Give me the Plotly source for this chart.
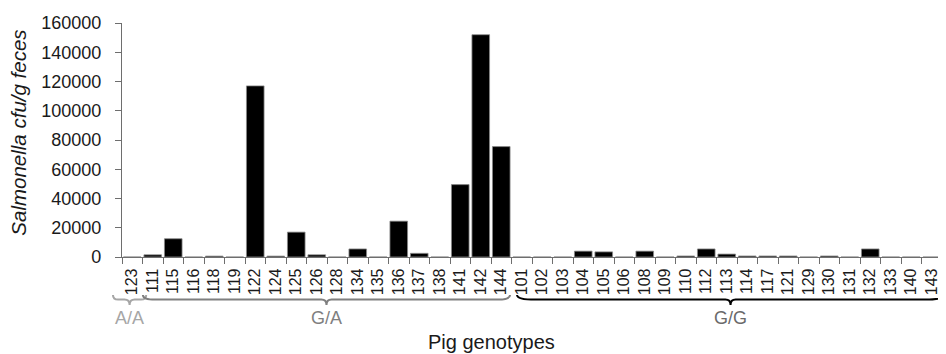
import plotly.graph_objects as go

# ---- data ----
pig_ids = ["123",
           "111", "115", "116", "118", "119", "122", "124", "125", "126", "128",
           "134", "135", "136", "137", "138", "141", "142", "144",
           "101", "102", "103", "104", "105", "106", "108", "109", "110", "112",
           "113", "114", "117", "121", "129", "130", "131", "132", "133", "140", "143"]
cfu_values = [0,
              1500, 12500, 0, 600, 0, 117000, 600, 17000, 1500, 0,
              5500, 0, 24500, 2500, 0, 49500, 152000, 75500,
              0, 0, 0, 4000, 3500, 0, 4000, 0, 700, 5500,
              2000, 700, 700, 700, 0, 700, 0, 5500, 0, 0, 0]
group_names = ["A/A", "G/A", "G/G"]
group_sizes = [1, 18, 21]
y_ticks = [0, 20000, 40000, 60000, 80000, 100000, 120000, 140000, 160000]

# ---- styling ----
FONT = "Liberation Sans, Arial, sans-serif"
group_colors = ["#a6a6a6", "#7f7f7f", "#000000"]
label_colors = ["#a6a6a6", "#7f7f7f", "#6a6a6a"]
# bracket extents relative to group boundaries (in category units)
brace_pad = [(-0.44, 0.18), (0.02, -0.07), (0.27, 0.1)]
brace_round = [0.25, 0.6, 0.9]

n = len(pig_ids)
xs = list(range(n))

fig = go.Figure()
fig.add_trace(go.Bar(
    x=xs, y=cfu_values,
    marker=dict(color="#000000", line=dict(color="#8a8a8a", width=0.8)),
    hoverinfo="x+y",
))

def to_paper(v):
    return (v + 0.5) / n

y_top, y_flat, y_tip = -0.162, -0.182, -0.205
shapes = []
annotations = []
start = 0
for name, size, col, lcol, pad, rd in zip(group_names, group_sizes, group_colors,
                                          label_colors, brace_pad, brace_round):
    a = start - 0.5 + pad[0]
    b = start + size - 1 + 0.5 + pad[1]
    m = (a + b) / 2
    d = min(rd, (b - a) / 4)
    t = min(0.25, (b - a) / 4)
    P = to_paper
    path = (f"M {P(a)},{y_top} Q {P(a)},{y_flat} {P(a + d)},{y_flat} "
            f"L {P(m - t)},{y_flat} Q {P(m)},{y_flat} {P(m)},{y_tip} "
            f"Q {P(m)},{y_flat} {P(m + t)},{y_flat} "
            f"L {P(b - d)},{y_flat} Q {P(b)},{y_flat} {P(b)},{y_top}")
    shapes.append(dict(type="path", xref="paper", yref="paper", path=path,
                       line=dict(color=col, width=2)))
    annotations.append(dict(x=P(m), y=-0.259, xref="paper", yref="paper",
                            text=name, showarrow=False,
                            font=dict(family=FONT, size=18, color=lcol),
                            xanchor="center", yanchor="middle"))
    start += size

annotations.append(dict(x=0.451, y=-0.365, xref="paper", yref="paper",
                        text="Pig genotypes", showarrow=False,
                        font=dict(family=FONT, size=20, color="#1a1a1a"),
                        xanchor="center", yanchor="middle"))
annotations.append(dict(x=-0.126, y=0.53, xref="paper", yref="paper",
                        text="<i>Salmonella cfu/g feces</i>", showarrow=False,
                        textangle=-90,
                        font=dict(family=FONT, size=20.5, color="#1a1a1a"),
                        xanchor="center", yanchor="middle"))

# the page body adds an 8px offset, so the figure is 8px smaller than the window
fig.update_layout(
    width=938, height=346,
    margin=dict(l=114, r=4, t=15, b=97, autoexpand=False),
    paper_bgcolor="white", plot_bgcolor="white",
    showlegend=False, bargap=0.14,
    shapes=shapes, annotations=annotations,
    font=dict(family=FONT, color="#1a1a1a"),
)
fig.update_xaxes(
    automargin=False,
    range=[-0.5, n - 0.5],
    tickmode="array", tickvals=xs, ticktext=pig_ids,
    tickangle=-90, ticks="", showgrid=False, zeroline=False,
    showline=True, linecolor="#6e6e6e", linewidth=1.3,
    ticklabelstandoff=4,
    tickfont=dict(family=FONT, size=16, color="#1a1a1a"),
    minor=dict(tickmode="array", tickvals=[i - 0.5 for i in range(n + 1)],
               ticks="outside", ticklen=6, tickcolor="#6e6e6e", tickwidth=1.3,
               showgrid=False),
)
fig.update_yaxes(
    automargin=False,
    range=[0, 160000], tickmode="array", tickvals=y_ticks,
    ticktext=[str(v) for v in y_ticks],
    ticks="outside", ticklen=6, tickcolor="#6e6e6e", tickwidth=1.3,
    ticklabelstandoff=10,
    showgrid=False, zeroline=False,
    showline=True, linecolor="#6e6e6e", linewidth=1.3,
    tickfont=dict(family=FONT, size=18, color="#1a1a1a"),
)

fig.write_html("out.html")
